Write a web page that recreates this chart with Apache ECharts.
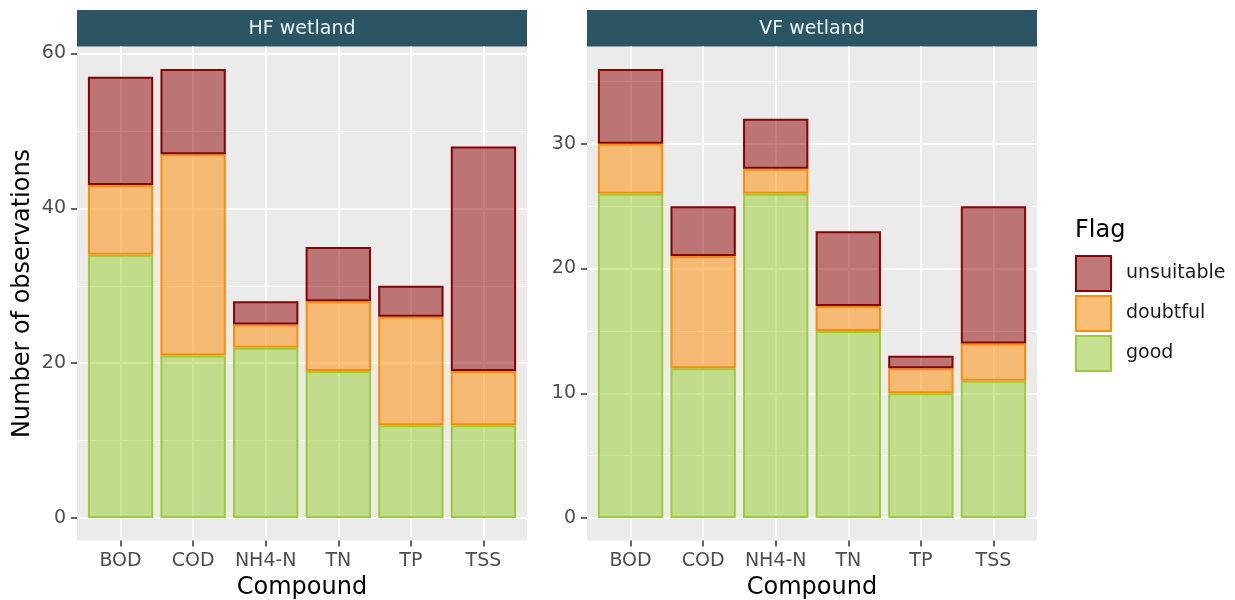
<!DOCTYPE html>
<html>
<head>
<meta charset="utf-8">
<title>Observations by compound and flag</title>
<script src="https://cdn.jsdelivr.net/npm/echarts@6/dist/echarts.min.js"></script>
<style>
  html, body { margin: 0; padding: 0; background: #ffffff; }
  #chart { width: 1235px; height: 600px; }
</style>
</head>
<body>
<div id="chart"></div>
<script>
// ---- data ----
const compounds = ['BOD', 'COD', 'NH4-N', 'TN', 'TP', 'TSS'];

const hfGood       = [34, 21, 22, 19, 12, 12];
const hfDoubtful   = [9, 26, 3, 9, 14, 7];
const hfUnsuitable = [14, 11, 3, 7, 4, 29];

const vfGood       = [26, 12, 26, 15, 10, 11];
const vfDoubtful   = [4, 9, 2, 2, 2, 3];
const vfUnsuitable = [6, 4, 4, 6, 1, 11];

const hfTicks = [0, 20, 40, 60];
const vfTicks = [0, 10, 20, 30];

const flagNames = ['good', 'doubtful', 'unsuitable'];   // stacking order, bottom to top
const legendOrder = ['unsuitable', 'doubtful', 'good'];

// ---- styling ----
const FONT = 'DejaVu Sans';
const flagLine = { good: '#9ACD32', doubtful: '#FF8C00', unsuitable: '#8B0000' };
const FILL_ALPHA = 0.5;
const PANEL_BG = '#EBEBEB';
const STRIP_BG = '#2A5565';

function hexRgb(h) {
  return [1, 3, 5].map(i => parseInt(h.slice(i, i + 2), 16));
}
function fillColor(name) {
  const [r, g, b] = hexRgb(flagLine[name]);
  return `rgba(${r},${g},${b},${FILL_ALPHA})`;
}
// legend keys: same translucent fill seen over a very light key background
function keyColor(name) {
  const c = hexRgb(flagLine[name]);
  const bg = 242;
  const m = c.map(v => Math.round(v * FILL_ALPHA + bg * (1 - FILL_ALPHA)));
  return `rgb(${m[0]},${m[1]},${m[2]})`;
}

// ---- layout ----
const panelTop = 46.5;
const panelHeight = 494;
const panelWidth = 450;
const stripTop = 10;

const panels = [
  { title: 'HF wetland', left: 77, ticks: hfTicks, yTitle: 'Number of observations',
    values: { good: hfGood, doubtful: hfDoubtful, unsuitable: hfUnsuitable } },
  { title: 'VF wetland', left: 587, ticks: vfTicks, yTitle: '',
    values: { good: vfGood, doubtful: vfDoubtful, unsuitable: vfUnsuitable } }
];

const grid = [], xAxis = [], yAxis = [], series = [], graphic = [];

function addGrid(g) {
  grid.push(Object.assign({ containLabel: false, outerBoundsMode: 'none' }, g));
  return grid.length - 1;
}
const hidden = { show: false };

panels.forEach((p, pi) => {
  const n = compounds.length;
  const totals = compounds.map((_, i) => flagNames.reduce((s, f) => s + p.values[f][i], 0));
  const dataMax = Math.max(...totals);
  const pad = dataMax * 0.05;
  const yMin = -pad, yMax = dataMax + pad;
  const unit = panelHeight / (yMax - yMin);
  const zeroY = panelTop + yMax * unit;
  const band = panelWidth / (n + 0.2);

  const majorStep = p.ticks[1] - p.ticks[0];
  const majorTop = p.ticks[p.ticks.length - 1];
  const minorStep = majorStep / 2;
  const minorTop = Math.floor(yMax / minorStep) * minorStep;

  // panel background (+ y title)
  let gi = addGrid({ left: p.left, top: panelTop, width: panelWidth, height: panelHeight,
    show: true, backgroundColor: PANEL_BG, borderWidth: 0 });
  xAxis.push({ gridIndex: gi, type: 'value', min: 0, max: 1, show: false });
  yAxis.push({ gridIndex: gi, type: 'value', min: yMin, max: yMax,
    axisLine: { show: false, onZero: false }, axisTick: hidden, axisLabel: hidden, splitLine: hidden,
    name: p.yTitle, nameLocation: 'middle', nameRotate: 90, nameGap: 42,
    nameTextStyle: { fontFamily: FONT, fontSize: 24, color: '#000000' } });

  // minor horizontal grid lines
  gi = addGrid({ left: p.left, top: zeroY - minorTop * unit, width: panelWidth, height: minorTop * unit });
  xAxis.push({ gridIndex: gi, type: 'value', min: 0, max: 1, show: false });
  yAxis.push({ gridIndex: gi, type: 'value', min: 0, max: minorTop, interval: minorStep,
    axisLine: { show: false, onZero: false }, axisTick: hidden, axisLabel: hidden,
    splitLine: { show: true, lineStyle: { color: '#FFFFFF', width: 1 } } });

  // major horizontal grid lines, y tick labels
  gi = addGrid({ left: p.left, top: zeroY - majorTop * unit, width: panelWidth, height: majorTop * unit });
  xAxis.push({ gridIndex: gi, type: 'value', min: 0, max: 1, show: false });
  yAxis.push({ gridIndex: gi, type: 'value', min: 0, max: majorTop, interval: majorStep,
    axisLine: { show: false, onZero: false },
    axisTick: { show: true, length: 6, lineStyle: { color: '#333333', width: 1.5 } },
    axisLabel: { show: true, margin: 11, fontFamily: FONT, fontSize: 19, color: '#4D4D4D' },
    splitLine: { show: true, lineStyle: { color: '#FFFFFF', width: 2 } } });

  // vertical grid lines at category centres
  gi = addGrid({ left: p.left + 0.6 * band, top: panelTop, width: (n - 1) * band, height: panelHeight });
  xAxis.push({ gridIndex: gi, type: 'category', data: compounds, boundaryGap: false,
    axisLine: { show: false, onZero: false }, axisTick: hidden, axisLabel: hidden,
    splitLine: { show: true, interval: 0, lineStyle: { color: '#FFFFFF', width: 2 } } });
  yAxis.push({ gridIndex: gi, type: 'value', min: 0, max: 1, show: false });

  // bars
  gi = addGrid({ left: p.left + 0.1 * band, top: panelTop, width: n * band, height: panelHeight });
  const xi = xAxis.length, yi = yAxis.length;
  xAxis.push({ gridIndex: gi, type: 'category', data: compounds,
    axisLine: { show: false, onZero: false },
    axisTick: { show: true, alignWithLabel: true, interval: 0, length: 6,
      lineStyle: { color: '#333333', width: 1.5 } },
    axisLabel: { interval: 0, margin: 11, fontFamily: FONT, fontSize: 19, color: '#4D4D4D' },
    splitLine: hidden,
    name: 'Compound', nameLocation: 'middle', nameGap: 31,
    nameTextStyle: { fontFamily: FONT, fontSize: 24, color: '#000000' } });
  yAxis.push({ gridIndex: gi, type: 'value', min: yMin, max: yMax, show: false });

  flagNames.forEach(f => {
    series.push({
      type: 'bar', name: f, xAxisIndex: xi, yAxisIndex: yi, stack: 'flags' + pi,
      data: p.values[f], barWidth: '90%',
      itemStyle: { color: fillColor(f), borderColor: flagLine[f], borderWidth: 2 },
      emphasis: { disabled: true }, silent: true
    });
  });

  // facet strip
  graphic.push({
    type: 'group', z: 100,
    children: [
      { type: 'rect', x: p.left, y: stripTop,
        shape: { width: panelWidth, height: panelTop - stripTop },
        style: { fill: STRIP_BG } },
      { type: 'text', x: p.left + panelWidth / 2, y: (stripTop + panelTop) / 2 + 1,
        style: { text: p.title, fill: '#EEF2F3', font: `19px "${FONT}"`,
          align: 'center', verticalAlign: 'middle' } }
    ]
  });
});

// legend title
graphic.push({ type: 'text', x: 1075, y: 231, z: 100,
  style: { text: 'Flag', fill: '#000000', font: `24px "${FONT}"`, align: 'left', verticalAlign: 'middle' } });

const option = {
  animation: false,
  grid, xAxis, yAxis, series, graphic,
  legend: {
    orient: 'vertical', left: 1070, top: 250,
    itemWidth: 35, itemHeight: 35, itemGap: 3, icon: 'rect', selectedMode: false,
    data: legendOrder.map(name => ({ name, itemStyle: { color: keyColor(name) } })),
    textStyle: { fontFamily: FONT, fontSize: 19, color: '#1A1A1A', padding: [0, 0, 0, 10] }
  }
};

const chart = echarts.init(document.getElementById('chart'), null, { renderer: 'canvas' });
chart.setOption(option);
</script>
</body>
</html>
